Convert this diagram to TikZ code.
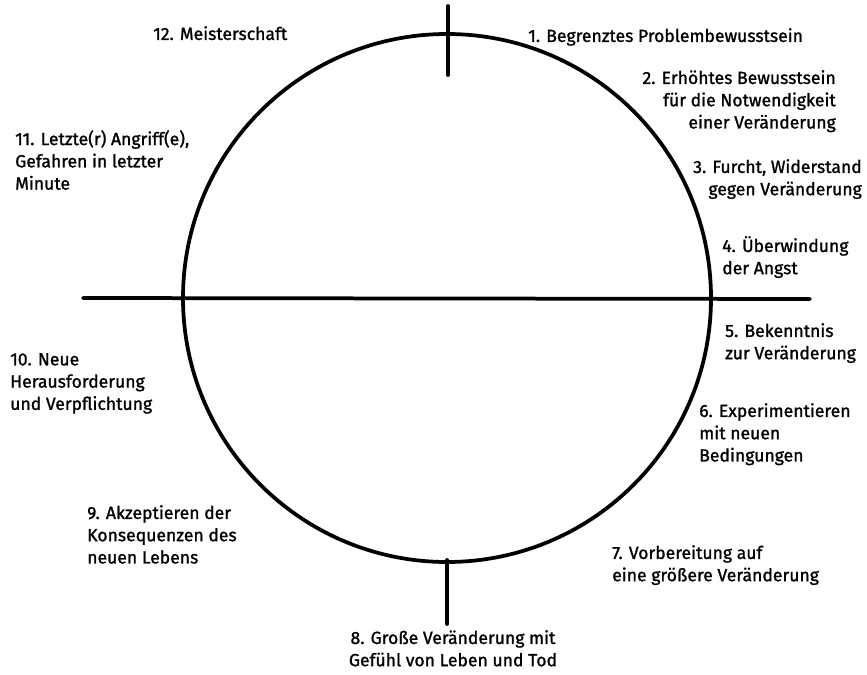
\documentclass[tikz,border=0pt]{standalone}
\usepackage{fontspec}
\setmainfont{Fira Sans}
\newfontfamily\stagefont{Fira Sans}[FakeBold=1.2]

\tikzset{stage/.style={font=\stagefont\fontsize{15}{19}\selectfont, inner sep=0pt}}
\tikzset{sketch/.style={line width=3.2pt, line cap=round}}

\begin{document}
\begin{tikzpicture}[x=0.03cm, y=-0.03cm]
	\useasboundingbox (0,0) rectangle (867,675);

	\coordinate (centre) at (447,298);
	\coordinate (axis-w) at (83,298);
	\coordinate (axis-e) at (810,299);
	\coordinate (tick-n1) at (448,6);
	\coordinate (tick-n2) at (448,75);
	\coordinate (tick-s1) at (447,560);
	\coordinate (tick-s2) at (447,624);

	% circle of change
	\draw [sketch] (centre) circle [radius=264];

	% axis and ticks
	\draw [sketch] (axis-w) -- (axis-e);
	\draw [sketch] (tick-n1) -- (tick-n2);
	\draw [sketch] (tick-s1) -- (tick-s2);

	% stages
	\foreach \a/\al/\p/\t [count=\i] in {
	    north west/left/{528,28}/{1. Begrenztes Problembewusstsein},
	    north east/right/{836,70}/{2. Erhöhtes Bewusstsein\\für die Notwendigkeit\\einer Veränderung},
	    north east/right/{862,159}/{3. Furcht, Widerstand\\gegen Veränderung},
	    north west/left/{722,236}/{4. Überwindung\\der Angst},
	    north west/left/{725,323}/{5. Bekenntnis\\zur Veränderung},
	    north west/left/{699,403}/{6. Experimentieren\\mit neuen\\Bedingungen},
	    north west/left/{612,545}/{7. Vorbereitung auf\\eine größere Veränderung},
	    north/center/{453,630}/{8. Große Veränderung mit\\Gefühl von Leben und Tod},
	    north west/left/{87,505}/{9. Akzeptieren der\\Konsequenzen des\\neuen Lebens},
	    north west/left/{10,353}/{10. Neue\\Herausforderung\\und Verpflichtung},
	    north west/left/{15,130}/{11. Letzte(r) Angriff(e),\\Gefahren in letzter\\Minute},
	    north west/left/{153,26}/{12. Meisterschaft}}
	  \node [stage, anchor=\a, align=\al] (stage-\i) at (\p) {\t};

\end{tikzpicture}
\end{document}
